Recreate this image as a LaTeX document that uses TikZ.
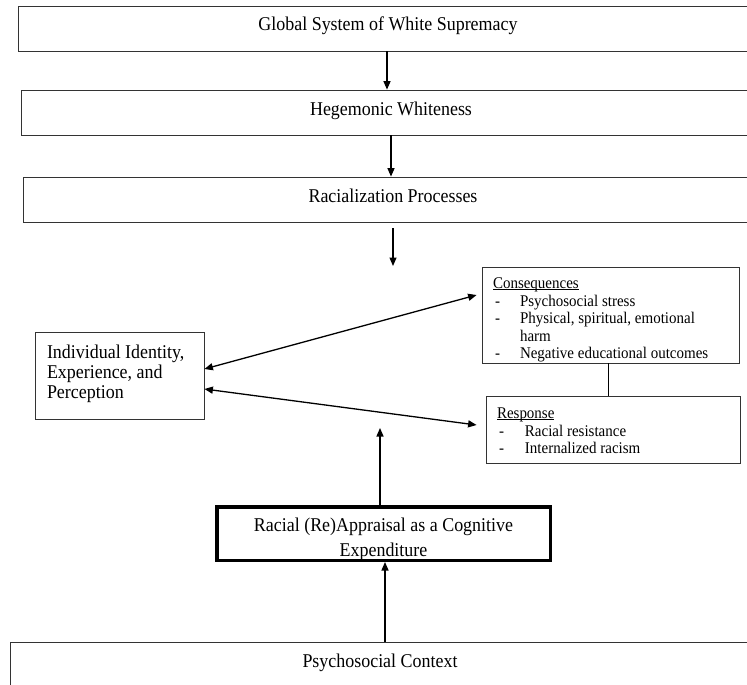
\documentclass[tikz,border=0pt]{standalone}
\usepackage{fontspec}
\setmainfont{Liberation Serif}[FakeStretch=0.92]
\usetikzlibrary{arrows.meta}

\newcommand{\dashitem}{\makebox[27pt][l]{\hspace{2pt}-}}
\newcommand{\boxhead}[1]{\setbox0\hbox{#1}\rlap{\rule[-1.6pt]{\wd0}{0.7pt}}#1}

\begin{document}
\begin{tikzpicture}[x=1pt,y=-1pt]

  \tikzstyle{wide} = [rectangle, draw=black!80, line width=0.8pt, minimum width=740pt, minimum height=45pt, inner sep=0pt, text height=13pt, text depth=8pt, font=\fontsize{19.5}{22}\selectfont]
  \tikzstyle{listbox} = [rectangle, draw=black!80, line width=0.8pt, align=flush left, inner xsep=11pt, inner ysep=0pt, font=\fontsize{16.3}{17.5}\selectfont]
  \tikzstyle{arrow} = [line width=1.3pt,->,>={Triangle[length=8.5pt,width=7pt]}]
  \tikzstyle{both} = [arrow,<->]

  \clip (0,0) rectangle (747,685);
  \fill [white] (0,0) rectangle (747,685);

  \node (global)    [wide] at (388,28.5)  {Global System of White Supremacy};
  \node (hegemonic) [wide] at (391,112.5) {Hegemonic Whiteness};
  \node (racial)    [wide] at (393,199.5) {Racialization Processes};
  \node (context)   [wide] at (380,664.5) {Psychosocial Context};

  \node (individual) [rectangle, draw=black!80, line width=0.8pt, minimum width=169pt, minimum height=87pt, inner xsep=12pt, inner ysep=0pt, text width=145pt, text height=26pt, text depth=61pt, align=flush left, font=\fontsize{19.5}{20}\selectfont] at (119.5,375.5) {Individual Identity,\\Experience, and\\Perception};

  \node (consequences) [listbox, minimum width=257pt, minimum height=96pt, text width=235pt, text height=21.5pt, text depth=74.5pt] at (610.5,315) {\boxhead{Consequences}\\\dashitem Psychosocial stress\\\dashitem Physical, spiritual, emotional\\\hspace{27pt}harm\\\dashitem Negative educational outcomes};
  \node (response) [listbox, minimum width=254pt, minimum height=67pt, text width=232pt, text height=22.5pt, text depth=44.5pt] at (613,429.5) {\boxhead{Response}\\\dashitem\hspace{1pt}Racial resistance\\\dashitem\hspace{1pt}Internalized racism};

  \node (appraisal) [rectangle, draw=black, line width=3.5pt, minimum width=333.5pt, minimum height=53.5pt, inner ysep=0pt, text width=310pt, text height=24.75pt, text depth=28.75pt, align=flush center, font=\fontsize{19.5}{25}\selectfont] at (383.5,533.5) {Racial (Re)Appraisal as a Cognitive\\Expenditure};

  \coordinate (down_from) at (393,228);
  \coordinate (down_to) at (393,266);
  \coordinate (up_to) at (380,428);

  \draw [arrow] ([xshift=-1pt]global.south) -- ([xshift=-4pt]hegemonic.north);
  \draw [arrow] (hegemonic.south) -- ([xshift=-2pt]racial.north);
  \draw [arrow] (down_from) -- (down_to);
  \draw [both] ([yshift=6.5pt]individual.east) -- ([shift={(-5pt,20pt)}]consequences.west);
  \draw [both] ([yshift=-13.5pt]individual.east) -- ([shift={(-9pt,4.5pt)}]response.west);
  \draw [line width=0.9pt] ([xshift=-2.5pt]consequences.south) -- ([xshift=-5pt]response.north);
  \draw [arrow] ([xshift=-3.5pt]appraisal.north) -- (up_to);
  \draw [arrow] ([xshift=5pt]context.north) -- ([xshift=1.5pt]appraisal.south);

\end{tikzpicture}
\end{document}
